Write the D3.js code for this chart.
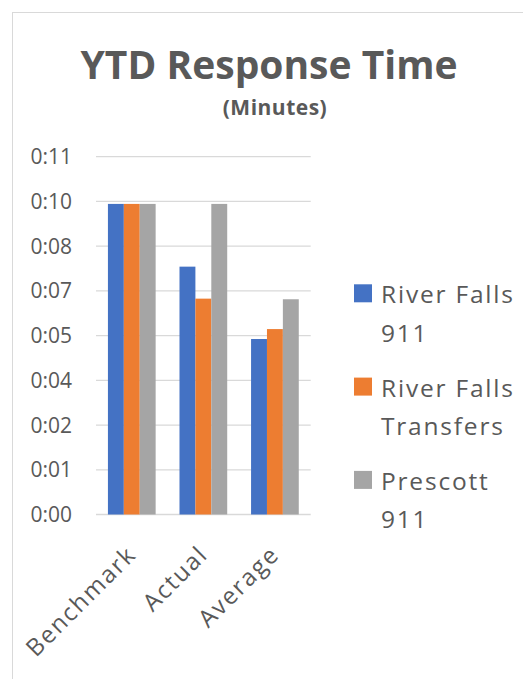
<!DOCTYPE html>
<html lang="en">
<head>
<meta charset="UTF-8">
<title>YTD Response Time</title>
<script src="https://d3js.org/d3.v7.min.js"></script>
<style>
  html, body { margin: 0; padding: 0; background: #fff; }
  svg { display: block; font-family: "Open Sans", sans-serif; }
</style>
</head>
<body>
<div id="chart"></div>
<script>
// categories and series (values in minutes)
const categories = ["Benchmark", "Actual", "Average"];
const seriesNames = ["River Falls 911", "River Falls Transfers", "Prescott 911"];
const riverFalls911 = [10.0, 7.98, 5.65];
const riverFallsTransfers = [10.0, 6.95, 5.97];
const prescott911 = [10.0, 10.0, 6.93];
// y axis ticks: Excel time format, one tick every 0.001 day (1.44 min)
const tickValues = [0, 1.44, 2.88, 4.32, 5.76, 7.2, 8.64, 10.08, 11.52];
const tickLabels = ["0:00", "0:01", "0:02", "0:04", "0:05", "0:07", "0:08", "0:10", "0:11"];

const colors = ["#4472c4", "#ed7d31", "#a5a5a5"];
const series = [riverFalls911, riverFallsTransfers, prescott911];

const W = 523, H = 679;
const plot = { left: 96, right: 310.7, top: 156.7, bottom: 514.5 };

const svg = d3.select("#chart").append("svg")
  .attr("width", W)
  .attr("height", H);

// chart border
svg.append("rect")
  .attr("x", 12.5).attr("y", 12.5)
  .attr("width", 700).attr("height", 800)
  .attr("fill", "none")
  .attr("stroke", "#d9d9d9");

// title
svg.append("text")
  .attr("x", 269).attr("y", 79)
  .attr("text-anchor", "middle")
  .attr("font-size", 39).attr("font-weight", "bold")
  .attr("fill", "#595959")
  .text("YTD Response Time");

svg.append("text")
  .attr("x", 275).attr("y", 115)
  .attr("text-anchor", "middle")
  .attr("font-size", 21).attr("font-weight", "bold")
  .attr("letter-spacing", 0.5)
  .attr("fill", "#595959")
  .text("(Minutes)");

// scales
const x0 = d3.scaleBand()
  .domain(categories)
  .range([plot.left, plot.right])
  .paddingInner(1 / 3)
  .paddingOuter(1 / 6);

const x1 = d3.scaleBand()
  .domain(d3.range(series.length))
  .range([0, x0.bandwidth()]);

const y = d3.scaleLinear()
  .domain([0, 11.52])
  .range([plot.bottom, plot.top]);

// gridlines
svg.append("g")
  .selectAll("line")
  .data(tickValues)
  .join("line")
  .attr("x1", plot.left).attr("x2", plot.right)
  .attr("y1", d => y(d)).attr("y2", d => y(d))
  .attr("stroke", "#d9d9d9")
  .attr("stroke-width", 1.3);

// y tick labels
svg.append("g")
  .selectAll("text")
  .data(tickValues)
  .join("text")
  .attr("x", 72)
  .attr("y", d => y(d))
  .attr("dy", "0.36em")
  .attr("text-anchor", "end")
  .attr("font-size", 21)
  .attr("fill", "#595959")
  .text((d, i) => tickLabels[i]);

// bars
series.forEach((vals, s) => {
  svg.append("g")
    .selectAll("rect")
    .data(vals)
    .join("rect")
    .attr("x", (d, i) => x0(categories[i]) + x1(s))
    .attr("y", d => y(d))
    .attr("width", x1.bandwidth())
    .attr("height", d => y(0) - y(d))
    .attr("fill", colors[s]);
});

// category labels, rotated
svg.append("g")
  .selectAll("text")
  .data(categories)
  .join("text")
  .attr("transform", d => `translate(${x0(d) + x0.bandwidth() / 2 + 6},556) rotate(-45)`)
  .attr("text-anchor", "end")
  .attr("font-size", 24)
  .attr("letter-spacing", 1.8)
  .attr("fill", "#595959")
  .text(d => d);

// legend
const legendLines = [["River Falls", "911"], ["River Falls", "Transfers"], ["Prescott", "911"]];
const legend = svg.append("g");
seriesNames.forEach((name, i) => {
  const base = 303.3 + i * 93.3;
  legend.append("rect")
    .attr("x", 354).attr("y", base - 19)
    .attr("width", 18).attr("height", 18)
    .attr("fill", colors[i]);
  const t = legend.append("text")
    .attr("x", 381).attr("y", base)
    .attr("font-size", 24.5)
    .attr("letter-spacing", 1.8)
    .attr("fill", "#595959");
  legendLines[i].forEach((line, j) => {
    t.append("tspan")
      .attr("x", 381)
      .attr("dy", j === 0 ? 0 : 38.5)
      .text(line);
  });
});
</script>
</body>
</html>
